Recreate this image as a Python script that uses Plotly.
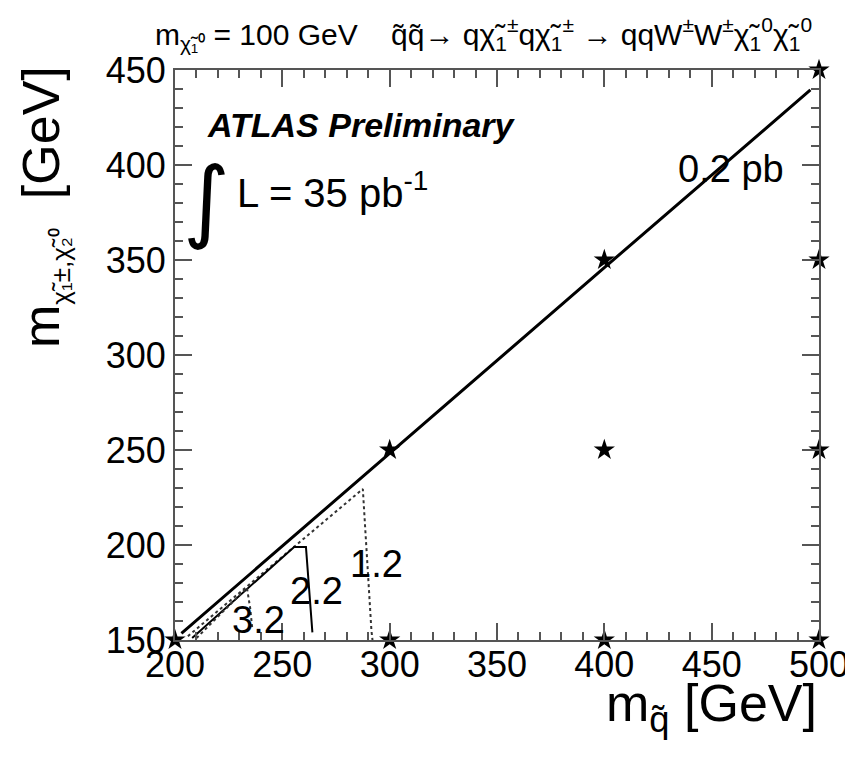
import plotly.graph_objects as go

# ---- data ----
grid_x = [200, 300, 400, 500, 300, 400, 500, 400, 500, 500]
grid_y = [150, 150, 150, 150, 250, 250, 250, 350, 350, 450]

c02_x = [203, 300, 400, 496]
c02_y = [153.5, 248.5, 346, 439.5]

c12_x = [206, 287.5, 291.5, 292]
c12_y = [152, 229.5, 155, 150]

c22_x = [208, 255.5, 261, 264]
c22_y = [151, 199, 199, 154]

c32_x = [210, 233.5, 235, 236]
c32_y = [151, 177.5, 167, 156]

labels_text = ["0.2 pb", "1.2", "2.2", "3.2"]
labels_x = [459, 294, 266, 239]
labels_y = [398, 190, 176, 160.5]

x_ticks = [200, 250, 300, 350, 400, 450, 500]
y_ticks = [150, 200, 250, 300, 350, 400, 450]

FONT = "Liberation Sans, Arial, Helvetica, sans-serif"

fig = go.Figure()
fig.add_trace(go.Scatter(x=c02_x, y=c02_y, mode="lines",
                         line=dict(color="black", width=3), hoverinfo="skip"))
fig.add_trace(go.Scatter(x=c12_x, y=c12_y, mode="lines",
                         line=dict(color="#333", width=2, dash="dot"), hoverinfo="skip"))
fig.add_trace(go.Scatter(x=c22_x, y=c22_y, mode="lines",
                         line=dict(color="black", width=2), hoverinfo="skip"))
fig.add_trace(go.Scatter(x=c32_x, y=c32_y, mode="lines",
                         line=dict(color="#333", width=2, dash="dot"), hoverinfo="skip"))
fig.add_trace(go.Scatter(x=grid_x, y=grid_y, mode="markers", cliponaxis=False,
                         marker=dict(symbol="star", size=16, color="black"), hoverinfo="skip"))

for t, x, y in zip(labels_text, labels_x, labels_y):
    fig.add_annotation(x=x, y=y, xref="x", yref="y", text=t, showarrow=False,
                       font=dict(family=FONT, size=38, color="black"))

axis_common = dict(
    showgrid=False, zeroline=False, showline=True, linecolor="#555", linewidth=2,
    mirror="allticks", ticks="inside", ticklen=17, tickwidth=1.5, tickcolor="#555",
    tickfont=dict(family=FONT, size=36, color="black"),
    minor=dict(ticks="inside", ticklen=8, tickwidth=1.5, tickcolor="#555", dtick=10),
)

fig.update_xaxes(range=[200, 500], tickvals=x_ticks, ticklabelstandoff=-8, **axis_common)
fig.update_yaxes(range=[150, 450], tickvals=y_ticks, **axis_common)

# title
fig.add_annotation(xref="paper", yref="paper", x=-0.034, y=1.023, xanchor="left", yanchor="bottom",
                   text="m<sub>χ̃₁⁰</sub> = 100 GeV    q̃q̃→ qχ̃<sub>1</sub><sup>±</sup>qχ̃<sub>1</sub><sup>±</sup> → qqW<sup>±</sup>W<sup>±</sup>χ̃<sub>1</sub><sup>0</sup>χ̃<sub>1</sub><sup>0</sup>",
                   showarrow=False, font=dict(family=FONT, size=30, color="black"))
# ATLAS
fig.add_annotation(xref="paper", yref="paper", x=0.047, y=0.904, xanchor="left", yanchor="middle",
                   text="<b><i>ATLAS Preliminary</i></b>", showarrow=False,
                   font=dict(family=FONT, size=34, color="black"))
fig.add_annotation(xref="paper", yref="paper", x=0.009, y=0.772, xanchor="left", yanchor="middle",
                   text="∫", showarrow=False,
                   font=dict(family="DejaVu Sans", size=90, color="black"))
fig.add_annotation(xref="paper", yref="paper", x=0.093, y=0.79, xanchor="left", yanchor="middle",
                   text="L = 35 pb<sup>-1</sup>", showarrow=False,
                   font=dict(family=FONT, size=40, color="black"))
# axis titles
fig.add_annotation(xref="paper", yref="paper", x=1.0, y=-0.118, xanchor="right", yanchor="middle",
                   text="m<sub>q̃</sub> [GeV]", showarrow=False,
                   font=dict(family=FONT, size=52, color="black"))
fig.add_annotation(xref="paper", yref="paper", x=-0.203, y=0.76, xanchor="center", yanchor="middle",
                   textangle=-90,
                   text="m<sub><span style='font-size:26px'>χ̃₁±,χ̃₂⁰</span></sub>  [GeV]", showarrow=False,
                   font=dict(family=FONT, size=52, color="black"))

fig.update_layout(
    width=853, height=762, showlegend=False,
    plot_bgcolor="white", paper_bgcolor="white",
    margin=dict(l=167, r=42, t=62, b=130),
)

fig.write_html("out.html")
